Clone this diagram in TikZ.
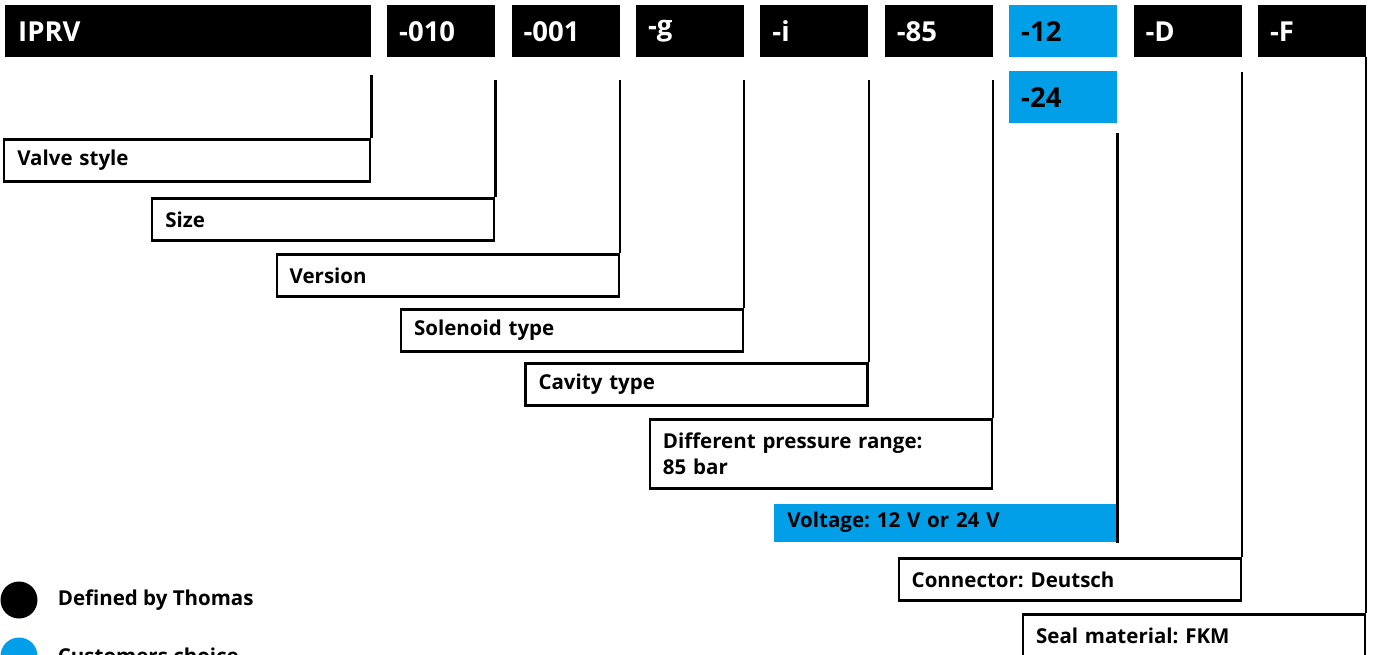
\documentclass[tikz,border=0pt]{standalone}
\usepackage{fontspec}
\setmainfont{Open Sans}
\usetikzlibrary{positioning}
\definecolor{choiceblue}{RGB}{0,159,232}
\frenchspacing

\begin{document}
\begin{tikzpicture}[
    x=1pt, y=-1pt,
    font=\bfseries\fontsize{20.5}{26}\selectfont,
    lead/.style={line width=2.2pt},
    codebox/.style={fill=black, text=white, anchor=north west, minimum height=52pt, text width=84pt, inner xsep=12pt, inner ysep=0pt, align=left, font=\bfseries\fontsize{27.5}{32}\selectfont},
    choice/.style={fill=choiceblue, text=black},
    labelbox/.style={draw, line width=2.2pt, anchor=north east, minimum height=42pt, text width=316pt, inner xsep=13pt, inner ysep=0pt, align=left},
    legdot/.style={circle, minimum size=37pt, inner sep=0pt}
]
  \path[use as bounding box, clip] (0,0) rectangle (1374,654);
  \def\pitch{124.4}

  % type code
  \node[codebox, text width=340pt, inner xsep=13pt] (iprv) at (5,5) {IPRV};
  \node[codebox] (c010) at (387,5) {-010};
  \node[codebox] (c001) at ({387+\pitch},5) {-001};
  \node[codebox] (cg) at ({387+2*\pitch},5) {-g};
  \node[codebox] (ci) at ({387+3*\pitch},5) {-i};
  \node[codebox] (c85) at ({387+4*\pitch},5) {-85};
  \node[codebox, choice] (c12) at ({387+5*\pitch},5) {-12};
  \node[codebox, choice] (c24) at ({387+5*\pitch},71) {-24};
  \node[codebox] (cD) at ({387+6*\pitch},5) {-D};
  \node[codebox] (cF) at ({387+7*\pitch},5) {-F};

  % explanations
  \node[labelbox, text width=340pt] (valve) at ([yshift=-81pt]iprv.south east) {Valve style};
  \node[labelbox] (size) at ([yshift=-140pt]c010.south east) {Size};
  \node[labelbox] (version) at ([yshift=-196pt]c001.south east) {Version};
  \node[labelbox] (solenoid) at ([yshift=-251pt]cg.south east) {Solenoid type};
  \node[labelbox] (cavity) at ([yshift=-305pt]ci.south east) {Cavity type};
  \node[labelbox, minimum height=69pt] (pressure) at ([yshift=-361pt]c85.south east) {Different pressure range:\\85 bar};
  \node[labelbox, draw=none, fill=choiceblue, minimum height=38pt] (voltage) at ([yshift=-445pt]c12.south east) {Voltage: 12 V or 24 V};
  \node[labelbox] (connector) at ([yshift=-500pt]cD.south east) {Connector: Deutsch};
  \node[labelbox] (seal) at ([yshift=-556pt]cF.south east) {Seal material: FKM};

  \draw[lead] ([yshift=-18pt]iprv.south east) -- (valve.north east);
  \foreach \c/\l in {c010/size, c001/version, cg/solenoid, ci/cavity, c85/pressure}
    \draw[lead] ([yshift=-23pt]\c.south east) -- (\l.north east);
  \draw[lead] ([yshift=-10pt]c24.south east) -- (voltage.south east);
  \draw[lead] ([yshift=-15pt]cD.south east) -- (connector.north east);
  \draw[lead] (cF.south east) -- (seal.north east);

  % legend
  \node[legdot, fill=black] (thomasdot) at (19,600) {};
  \node[right=20pt of thomasdot, inner sep=0pt] (thomastext) {Defined by Thomas};
  \node[legdot, fill=choiceblue] (customdot) at (19,656) {};
  \node[right=20pt of customdot, inner sep=0pt] (customtext) {Customers choice};
\end{tikzpicture}
\end{document}
